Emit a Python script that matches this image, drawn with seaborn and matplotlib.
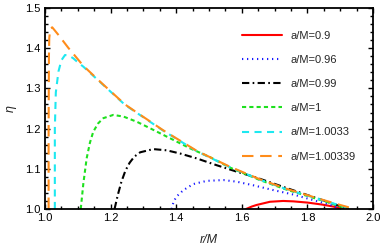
import pandas as pd
import seaborn as sns
import matplotlib.pyplot as plt
from matplotlib.ticker import MultipleLocator

# values
r_09 = [1.613, 1.630, 1.645, 1.686, 1.726, 1.757, 1.80, 1.845, 1.879, 1.908]
eta_09 = [1.0, 1.006, 1.010, 1.018, 1.020, 1.019, 1.016, 1.011, 1.006, 1.0]

r_096 = [1.386, 1.392, 1.401, 1.422, 1.452, 1.493, 1.544, 1.584, 1.635, 1.696, 1.757, 1.818, 1.868, 1.90]
eta_096 = [1.0, 1.018, 1.031, 1.047, 1.062, 1.070, 1.072, 1.068, 1.059, 1.047, 1.036, 1.022, 1.011, 1.0]

r_099 = [1.212, 1.222, 1.233, 1.245, 1.258, 1.272, 1.29, 1.33, 1.371, 1.412, 1.462, 1.523, 1.584, 1.645,
         1.737, 1.85, 1.925]
eta_099 = [1.0, 1.035, 1.068, 1.095, 1.115, 1.130, 1.141, 1.149, 1.146, 1.138, 1.126, 1.109, 1.093, 1.078,
           1.052, 1.021, 1.0]

r_1 = [1.109, 1.117, 1.127, 1.137, 1.147, 1.162, 1.178, 1.208, 1.239, 1.28, 1.32, 1.391, 1.442, 1.503,
       1.564, 1.655, 1.737, 1.85, 1.925]
eta_1 = [1.0, 1.064, 1.126, 1.165, 1.192, 1.213, 1.226, 1.234, 1.230, 1.217, 1.201, 1.172, 1.151, 1.129,
         1.103, 1.072, 1.048, 1.020, 1.0]

r_10033 = [1.030, 1.030, 1.033, 1.041, 1.050, 1.061, 1.072, 1.086, 1.10, 1.117, 1.173, 1.244, 1.36, 1.462,
           1.564, 1.655, 1.737, 1.85, 1.935]
eta_10033 = [1.0, 1.20, 1.29, 1.342, 1.37, 1.383, 1.382, 1.375, 1.365, 1.354, 1.312, 1.259, 1.195, 1.144,
             1.104, 1.073, 1.049, 1.021, 1.0]

r_100339 = [1.011, 1.011, 1.012, 1.013, 1.016, 1.022, 1.04, 1.071, 1.117, 1.173, 1.244, 1.28, 1.36, 1.462,
            1.564, 1.655, 1.737, 1.777, 1.85, 1.90, 1.945]
eta_100339 = [1.0, 1.20, 1.38, 1.425, 1.448, 1.452, 1.434, 1.401, 1.356, 1.313, 1.260, 1.240, 1.196, 1.145,
              1.105, 1.074, 1.050, 1.040, 1.022, 1.010, 1.0]

labels = ['a/M=0.9', 'a/M=0.96', 'a/M=0.99', 'a/M=1', 'a/M=1.0033', 'a/M=1.00339']
rs = [r_09, r_096, r_099, r_1, r_10033, r_100339]
etas = [eta_09, eta_096, eta_099, eta_1, eta_10033, eta_100339]
colors = ['#ff0000', '#1a1aff', '#000000', '#1ee01e', '#1ee8f0', '#ff8c1a']
styles = ['-', (0, (0.6, 1.8)), (0, (3.5, 1.6, 0.8, 1.6)), (0, (2.0, 1.5)),
          (0, (3.4, 2.6)), (0, (5.5, 3.2))]

sns.set_style("ticks")
plt.rcParams['font.family'] = ['Liberation Sans', 'DejaVu Sans']

fig = plt.figure(figsize=(3.82, 2.5), dpi=100)
ax = fig.add_axes([45 / 382, 1 - 209 / 250, 328 / 382, 201 / 250])

for r, eta, lab, col, ls in zip(rs, etas, labels, colors, styles):
    df = pd.DataFrame({'r': r, 'eta': eta})
    sns.lineplot(data=df, x='r', y='eta', ax=ax, color=col, linestyle=ls, lw=1.5,
                 label=lab, estimator=None, sort=False)

ax.set_xlim(1.0, 2.0)
ax.set_ylim(1.0, 1.5)
ax.xaxis.set_major_locator(MultipleLocator(0.2))
ax.xaxis.set_minor_locator(MultipleLocator(0.05))
ax.yaxis.set_major_locator(MultipleLocator(0.1))
ax.yaxis.set_minor_locator(MultipleLocator(0.02))
ax.xaxis.set_major_formatter(plt.FuncFormatter(lambda v, p: f'{v:.1f}'))
ax.yaxis.set_major_formatter(plt.FuncFormatter(lambda v, p: f'{v:.1f}'))
ax.tick_params(which='both', direction='in', top=True, right=True, labelsize=8, color='black',
               labelcolor='black', width=1.0)
ax.tick_params(which='major', length=3.5, pad=3)
ax.tick_params(which='minor', length=2)
for s in ax.spines.values():
    s.set_linewidth(1.3)
    s.set_color('black')

ax.set_xlabel('r/M', fontsize=9, style='italic', labelpad=8)
ax.set_ylabel('η', fontsize=9, style='italic', labelpad=6)

leg = ax.legend(loc='upper left', bbox_to_anchor=(0.60, 0.888), frameon=False, fontsize=8,
                handlelength=3.6, handletextpad=0.8, labelspacing=1.28, borderpad=0, borderaxespad=0)

fig.savefig('out.png', dpi=100)
